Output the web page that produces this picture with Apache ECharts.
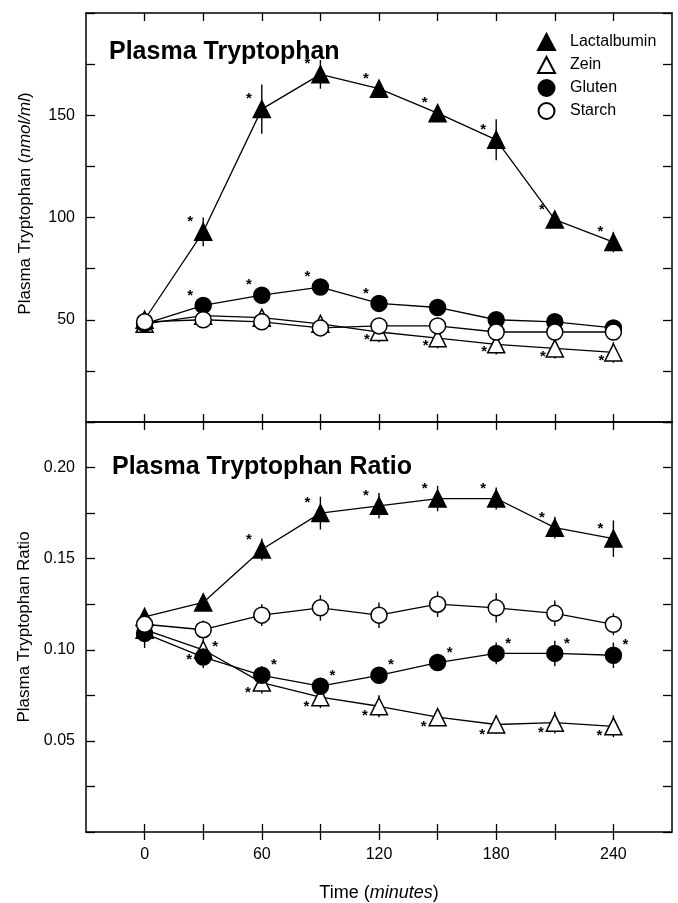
<!DOCTYPE html>
<html>
<head>
<meta charset="utf-8">
<script src="https://cdn.jsdelivr.net/npm/echarts@6/dist/echarts.min.js"></script>
<style>
  html, body { margin: 0; padding: 0; background: #fff; }
  #chart { width: 678px; height: 903px; }
</style>
</head>
<body>
<div id="chart"></div>
<script>
// time points (minutes)
var times = [0, 30, 60, 90, 120, 150, 180, 210, 240];

// upper panel: plasma tryptophan, nmol/ml
var lactTrp   = [50, 93, 153, 170, 163, 151, 138, 99, 88];
var zeinTrp   = [48, 52, 51, 48, 44, 41, 38, 36, 34];
var glutenTrp = [48, 57, 62, 66, 58, 56, 50, 49, 46];
var starchTrp = [49, 50, 49, 46, 47, 47, 44, 44, 44];
var lactTrpErr   = [3, 7, 12, 7, 4, 4, 10, 4, 5];
var zeinTrpErr   = [3, 2, 3, 3, 5, 5, 5, 5, 5];
var glutenTrpErr = [3, 3, 3, 3, 3, 3, 3, 3, 3];
var starchTrpErr = [3, 2, 2, 2, 3, 3, 3, 3, 3];
var lactTrpSig   = [0, 1, 1, 1, 1, 1, 1, 1, 1];
var zeinTrpSig   = [0, 0, 0, 0, 1, 1, 1, 1, 1];
var glutenTrpSig = [0, 1, 1, 1, 1, 0, 0, 0, 0];
var starchTrpSig = [0, 0, 0, 0, 0, 0, 0, 0, 0];

// lower panel: plasma tryptophan ratio
var lactRatio   = [0.118, 0.126, 0.155, 0.175, 0.179, 0.183, 0.183, 0.167, 0.161];
var zeinRatio   = [0.111, 0.100, 0.082, 0.074, 0.069, 0.063, 0.059, 0.060, 0.058];
var glutenRatio = [0.109, 0.096, 0.086, 0.080, 0.086, 0.093, 0.098, 0.098, 0.097];
var starchRatio = [0.114, 0.111, 0.119, 0.123, 0.119, 0.125, 0.123, 0.120, 0.114];
var lactRatioErr   = [0.003, 0.004, 0.006, 0.009, 0.007, 0.007, 0.006, 0.006, 0.010];
var zeinRatioErr   = [0.004, 0.006, 0.006, 0.006, 0.006, 0.004, 0.005, 0.006, 0.006];
var glutenRatioErr = [0.008, 0.006, 0.005, 0.004, 0.004, 0.004, 0.006, 0.007, 0.007];
var starchRatioErr = [0.004, 0.005, 0.006, 0.007, 0.007, 0.007, 0.008, 0.007, 0.006];
var lactRatioSig   = [0, 0, 1, 1, 1, 1, 1, 1, 1];
var zeinRatioSig   = [0, 1, 1, 1, 1, 1, 1, 1, 1];
var glutenRatioSig = [0, 1, 1, 1, 1, 1, 1, 1, 1];
var starchRatioSig = [0, 0, 0, 0, 0, 0, 0, 0, 0];

var names = ['Lactalbumin', 'Zein', 'Gluten', 'Starch'];
var yTrpLabels = [50, 100, 150];
var yRatioLabels = [0.05, 0.10, 0.15, 0.20];
var xLabels = [0, 60, 120, 180, 240];

var FONT = '"Liberation Sans", Arial, sans-serif';

var looks = {
  'Lactalbumin': { symbol: 'triangle', size: 17, fill: '#000' },
  'Zein':        { symbol: 'triangle', size: 17, fill: '#fff' },
  'Gluten':      { symbol: 'circle',   size: 16, fill: '#000' },
  'Starch':      { symbol: 'circle',   size: 16, fill: '#fff' }
};

function pairs(vals) {
  return times.map(function(t, i) { return [t, vals[i]]; });
}

function lineSeries(name, vals, sig, xi, yi, starOff) {
  var lk = looks[name];
  return {
    name: name, type: 'line', xAxisIndex: xi, yAxisIndex: yi,
    data: pairs(vals),
    symbol: lk.symbol, symbolSize: lk.size,
    lineStyle: { color: '#000', width: 1.3 },
    itemStyle: { color: lk.fill, borderColor: '#000', borderWidth: 1.5 },
    label: {
      show: true, position: 'inside', offset: starOff,
      color: '#000', fontSize: 15, fontWeight: 'bold', fontFamily: FONT,
      formatter: function(p) { return sig[p.dataIndex] ? '*' : ''; }
    },
    emphasis: { disabled: true },
    animation: false, z: 3
  };
}

// vertical error bars, mean +- err
function errSeries(vals, err, xi, yi) {
  return {
    type: 'custom', xAxisIndex: xi, yAxisIndex: yi,
    data: times.map(function(t, i) { return [t, vals[i] - err[i], vals[i] + err[i]]; }),
    renderItem: function(params, api) {
      var a = api.coord([api.value(0), api.value(1)]);
      var b = api.coord([api.value(0), api.value(2)]);
      return { type: 'line', shape: { x1: a[0], y1: a[1], x2: b[0], y2: b[1] },
               style: { stroke: '#000', lineWidth: 1.4 } };
    },
    silent: true, animation: false, z: 2
  };
}

function near(v, list) {
  for (var i = 0; i < list.length; i++) if (Math.abs(v - list[i]) < 1e-6) return true;
  return false;
}

var GL = 86, GW = 586;
var grids = [
  { left: GL, width: GW, top: 13, height: 409 },
  { left: GL, width: GW, top: 422, height: 410 }
];

var axLine = { show: true, onZero: false, lineStyle: { color: '#000', width: 1.5 } };
var tickStyle = { color: '#000', width: 1.3 };

function xAx(gi, pos, opts) {
  var a = {
    type: 'value', gridIndex: gi, position: pos, min: -30, max: 270, interval: 30,
    axisLine: axLine, splitLine: { show: false },
    axisTick: { show: true, inside: true, length: 8, lineStyle: tickStyle, customValues: times },
    axisLabel: { show: false }
  };
  for (var k in opts) a[k] = opts[k];
  return a;
}

function yAx(gi, pos, max, interval, opts) {
  var a = {
    type: 'value', gridIndex: gi, position: pos, min: 0, max: max, interval: interval,
    axisLine: axLine, splitLine: { show: false },
    axisTick: { show: true, inside: true, length: 9, lineStyle: tickStyle },
    axisLabel: { show: false }
  };
  for (var k in opts) a[k] = opts[k];
  return a;
}

var italicRich17 = { it: { fontFamily: FONT, fontSize: 17, fontStyle: 'italic', color: '#000' } };
var italicRich18 = { it: { fontFamily: FONT, fontSize: 18, fontStyle: 'italic', color: '#000' } };

var option = {
  backgroundColor: '#fff',
  animation: false,
  grid: grids,
  title: [
    { text: 'Plasma Tryptophan', left: 104, top: 35,
      textStyle: { fontFamily: FONT, fontSize: 25, fontWeight: 'bold', color: '#000' } },
    { text: 'Plasma Tryptophan Ratio', left: 107, top: 450,
      textStyle: { fontFamily: FONT, fontSize: 25, fontWeight: 'bold', color: '#000' } }
  ],
  legend: {
    orient: 'vertical', left: 532, top: 28, itemGap: 5, itemWidth: 17, itemHeight: 16,
    selectedMode: false,
    textStyle: { fontFamily: FONT, fontSize: 16, color: '#000', padding: [0, 0, 0, 10] },
    data: names.map(function(n) { return { name: n, icon: looks[n].symbol }; })
  },
  xAxis: [
    xAx(0, 'bottom', {}),
    xAx(0, 'top', {}),
    xAx(1, 'top', {}),
    xAx(1, 'bottom', {
      name: 'Time ({it|minutes})',
      nameLocation: 'middle', nameGap: 52,
      nameTextStyle: { fontFamily: FONT, fontSize: 18, color: '#000', rich: italicRich18 },
      axisLabel: {
        show: true, margin: 15, color: '#000', fontFamily: FONT, fontSize: 16,
        formatter: function(v) { return near(v, xLabels) ? String(v) : ''; }
      }
    }),
    // outward half of the crossing ticks on the bottom edge
    xAx(1, 'bottom', {
      axisLine: { show: false, onZero: false },
      axisTick: { show: true, inside: false, length: 8, lineStyle: tickStyle, customValues: times }
    })
  ],
  yAxis: [
    yAx(0, 'left', 200, 25, {
      name: 'Plasma Tryptophan ({it|nmol/ml})',
      nameLocation: 'middle', nameGap: 52,
      nameTextStyle: { fontFamily: FONT, fontSize: 17, color: '#000', rich: italicRich17,
                       padding: [0, 0, 0, 28] },
      axisLabel: {
        show: true, margin: 11, color: '#000', fontFamily: FONT, fontSize: 16,
        formatter: function(v) { return near(v, yTrpLabels) ? String(v) : ''; }
      }
    }),
    yAx(0, 'right', 200, 25, {}),
    yAx(1, 'left', 0.225, 0.025, {
      name: 'Plasma Tryptophan Ratio',
      nameLocation: 'middle', nameGap: 52,
      nameTextStyle: { fontFamily: FONT, fontSize: 17, color: '#000' },
      axisLabel: {
        show: true, margin: 11, color: '#000', fontFamily: FONT, fontSize: 16,
        formatter: function(v) { return near(v, yRatioLabels) ? v.toFixed(2) : ''; }
      }
    }),
    yAx(1, 'right', 0.225, 0.025, {})
  ],
  series: [
    errSeries(lactTrp, lactTrpErr, 0, 0),
    errSeries(zeinTrp, zeinTrpErr, 0, 0),
    errSeries(glutenTrp, glutenTrpErr, 0, 0),
    errSeries(starchTrp, starchTrpErr, 0, 0),
    lineSeries('Lactalbumin', lactTrp, lactTrpSig, 0, 0, [-13, -10]),
    lineSeries('Zein', zeinTrp, zeinTrpSig, 0, 0, [-12, 8]),
    lineSeries('Gluten', glutenTrp, glutenTrpSig, 0, 0, [-13, -10]),
    lineSeries('Starch', starchTrp, starchTrpSig, 0, 0, [0, 0]),

    errSeries(lactRatio, lactRatioErr, 3, 2),
    errSeries(zeinRatio, zeinRatioErr, 3, 2),
    errSeries(glutenRatio, glutenRatioErr, 3, 2),
    errSeries(starchRatio, starchRatioErr, 3, 2),
    lineSeries('Lactalbumin', lactRatio, lactRatioSig, 3, 2, [-13, -10]),
    lineSeries('Zein', zeinRatio, zeinRatioSig, 3, 2, [-14, 10]),
    lineSeries('Gluten', glutenRatio, glutenRatioSig, 3, 2, [12, -10]),
    lineSeries('Starch', starchRatio, starchRatioSig, 3, 2, [0, 0])
  ]
};

var chart = echarts.init(document.getElementById('chart'), null, { renderer: 'canvas' });
chart.setOption(option);
</script>
</body>
</html>
